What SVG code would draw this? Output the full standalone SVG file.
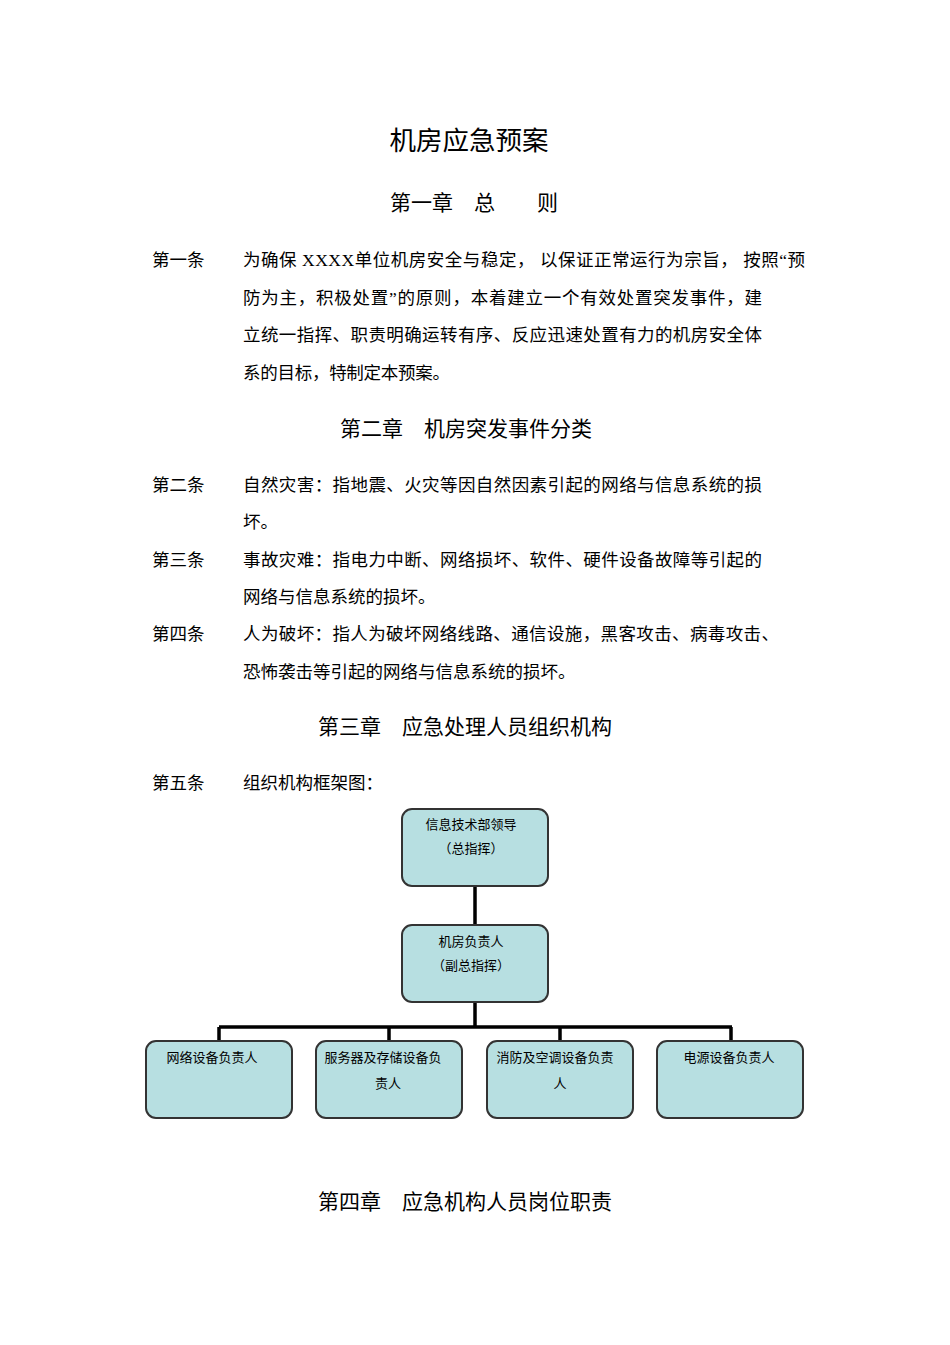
<svg xmlns="http://www.w3.org/2000/svg" width="950" height="1345" viewBox="0 0 950 1345" xml:space="preserve">
<style>
text{font-family:"Liberation Serif","Noto Sans CJK SC",serif;fill:#000}
.h{font-size:26.5px;text-anchor:middle}
.c{font-size:21px;text-anchor:middle}
.b{font-size:17.5px}
.n{font-size:13px;text-anchor:middle}
.box{fill:#b7dfe1;stroke:#333;stroke-width:2}
.ln{stroke:#000;stroke-width:3.5;fill:none}
</style>
<rect width="950" height="1345" fill="#fff"/>
<text class="h" x="469" y="150">机房应急预案</text>
<text class="c" x="474" y="210">第一章　总　　则</text>
<text class="b" x="152" y="266">第一条</text>
<text class="b" x="243" y="266" textLength="562" lengthAdjust="spacing">为确保 XXXX单位机房安全与稳定， 以保证正常运行为宗旨， 按照“预</text>
<text class="b" x="243" y="304" textLength="519" lengthAdjust="spacing">防为主，积极处置”的原则，本着建立一个有效处置突发事件，建</text>
<text class="b" x="243" y="341" textLength="519" lengthAdjust="spacing">立统一指挥、职责明确运转有序、反应迅速处置有力的机房安全体</text>
<text class="b" x="243" y="379" textLength="207" lengthAdjust="spacing">系的目标，特制定本预案。</text>
<text class="c" x="466" y="436">第二章　机房突发事件分类</text>
<text class="b" x="152" y="491">第二条</text>
<text class="b" x="243" y="491" textLength="519" lengthAdjust="spacing">自然灾害：指地震、火灾等因自然因素引起的网络与信息系统的损</text>
<text class="b" x="243" y="528">坏。</text>
<text class="b" x="152" y="566">第三条</text>
<text class="b" x="243" y="566" textLength="519" lengthAdjust="spacing">事故灾难：指电力中断、网络损坏、软件、硬件设备故障等引起的</text>
<text class="b" x="243" y="603">网络与信息系统的损坏。</text>
<text class="b" x="152" y="640">第四条</text>
<text class="b" x="243" y="640" textLength="536" lengthAdjust="spacing">人为破坏：指人为破坏网络线路、通信设施，黑客攻击、病毒攻击、</text>
<text class="b" x="243" y="678">恐怖袭击等引起的网络与信息系统的损坏。</text>
<text class="c" x="465" y="734">第三章　应急处理人员组织机构</text>
<text class="b" x="152" y="789">第五条</text>
<text class="b" x="243" y="789">组织机构框架图：</text>
<g id="connectors">
<path class="ln" d="M475 886V925M475 1002V1027M219 1027H732M219 1027V1041M389 1027V1041M560 1027V1041M731 1027V1041"/>
</g>
<g id="n1"><rect class="box" x="402" y="809" width="146" height="77" rx="10"/><text class="n" x="471" y="829">信息技术部领导</text><text class="n" x="471" y="853">（总指挥）</text></g>
<g id="n2"><rect class="box" x="402" y="925" width="146" height="77" rx="10"/><text class="n" x="471" y="946">机房负责人</text><text class="n" x="471" y="970">（副总指挥）</text></g>
<g id="n3"><rect class="box" x="146" y="1041" width="146" height="77" rx="10"/><text class="n" x="212" y="1062">网络设备负责人</text></g>
<g id="n4"><rect class="box" x="316" y="1041" width="146" height="77" rx="10"/><text class="n" x="383" y="1062">服务器及存储设备负</text><text class="n" x="388" y="1088">责人</text></g>
<g id="n5"><rect class="box" x="487" y="1041" width="146" height="77" rx="10"/><text class="n" x="555" y="1062">消防及空调设备负责</text><text class="n" x="560" y="1088">人</text></g>
<g id="n6"><rect class="box" x="657" y="1041" width="146" height="77" rx="10"/><text class="n" x="729" y="1062">电源设备负责人</text></g>
<text class="c" x="465" y="1209">第四章　应急机构人员岗位职责</text>
</svg>
